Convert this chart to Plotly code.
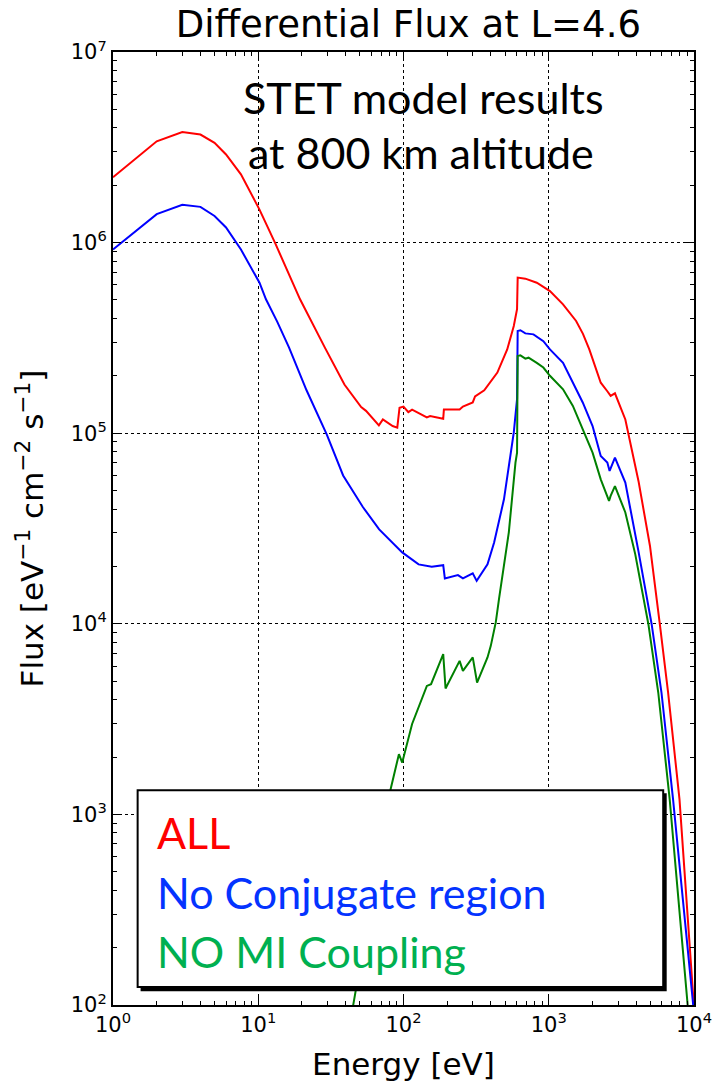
import plotly.graph_objects as go

# ---- Differential flux spectra at L=4.6 (STET model, 800 km) ----
energy_all = [1, 2, 3, 4, 5, 6, 7.6, 10.2, 13.1, 19.4, 28.7, 39.2, 51.1, 55.2, 67.7, 72.1,
              84.2, 90.6, 93.9, 100, 108, 114.6, 144.8, 152.4, 187.7, 189.7, 243.4, 256.5,
              299.7, 311, 359.7, 442.7, 517.6, 574.5, 605, 611, 690, 827, 1019, 1254, 1543,
              1720, 1902, 2100, 2280, 2531, 2667, 2856, 3367, 4150, 4977, 5818, 6634, 7946,
              9066, 9796, 9990]
flux_all = [2.20e6, 3.40e6, 3.80e6, 3.69e6, 3.34e6, 2.90e6, 2.28e6, 1.49e6, 9.9e5, 5.04e5,
            2.82e5, 1.80e5, 1.37e5, 1.31e5, 1.10e5, 1.18e5, 1.09e5, 1.07e5, 1.36e5, 1.38e5,
            1.29e5, 1.33e5, 1.21e5, 1.23e5, 1.19e5, 1.33e5, 1.33e5, 1.38e5, 1.45e5, 1.56e5,
            1.68e5, 2.08e5, 2.75e5, 3.65e5, 4.47e5, 6.55e5, 6.47e5, 6.16e5, 5.57e5, 4.74e5,
            3.88e5, 3.32e5, 2.75e5, 2.20e5, 1.84e5, 1.66e5, 1.57e5, 1.62e5, 1.18e5, 5.6e4,
            2.56e4, 9.95e3, 4.36e3, 1.20e3, 294, 131, 98]

energy_noconj = [1, 2, 3, 4, 5, 6, 7.6, 10.2, 11.3, 13.5, 16.3, 21.5, 29.6, 38.4, 52.5, 68.0,
                 98, 127, 156.5, 187.7, 192.6, 237, 256.5, 299.7, 319, 378.7, 420.6, 491.6,
                 574.5, 605, 611, 638, 690, 785, 918, 1019, 1254, 1466, 1714, 2003, 2280,
                 2531, 2624, 2856, 3367, 4150, 5110, 5972, 7175, 9900]
flux_noconj = [9.21e5, 1.41e6, 1.58e6, 1.54e6, 1.38e6, 1.20e6, 9.2e5, 6.16e5, 5.04e5, 3.85e5,
               2.81e5, 1.68e5, 9.87e4, 6.0e4, 4.1e4, 3.13e4, 2.37e4, 2.05e4, 1.99e4, 2.03e4,
               1.73e4, 1.80e4, 1.73e4, 1.84e4, 1.68e4, 2.05e4, 2.67e4, 4.50e4, 1.01e5,
               1.51e5, 3.44e5, 3.47e5, 3.34e5, 3.30e5, 3.04e5, 2.75e5, 2.34e5, 1.84e5,
               1.45e5, 1.09e5, 7.59e4, 7.01e4, 6.34e4, 7.45e4, 5.51e4, 2.39e4, 9.95e3,
               4.36e3, 1.20e3, 98]

energy_nomi = [44, 81.6, 93, 98, 114.6, 144.8, 154.8, 187.7, 194.8, 243.4, 256.5, 299.7, 321,
               378.7, 399, 432, 454.6, 531, 590, 605, 611, 638, 690, 726, 827, 918, 1019, 1254,
               1466, 1714, 2003, 2280, 2465, 2600, 2667, 2856, 3367, 3939, 4853, 5675, 6802, 9066]
flux_nomi = [90, 1.36e3, 2.07e3, 1.87e3, 2.98e3, 4.72e3, 4.82e3, 6.93e3, 4.58e3, 6.39e3,
             5.66e3, 6.66e3, 4.92e3, 6.66e3, 7.66e3, 1.02e4, 1.35e4, 3.02e4, 7.01e4, 7.91e4,
             2.54e5, 2.56e5, 2.46e5, 2.49e5, 2.34e5, 2.21e5, 2.0e5, 1.70e5, 1.39e5, 1.05e5,
             7.91e4, 5.73e4, 4.88e4, 4.41e4, 4.69e4, 5.28e4, 3.84e4, 2.32e4, 9.95e3, 4.36e3,
             1.20e3, 98]

series = [
    ("ALL", energy_all, flux_all, "#ff0000", "#ff0000"),
    ("No Conjugate region", energy_noconj, flux_noconj, "#0000ff", "#0433ff"),
    ("NO MI Coupling", energy_nomi, flux_nomi, "#008000", "#00b050"),
]

x_decades = [1, 10, 100, 1000, 10000]
x_ticklabels = ["10<sup>0</sup>", "10<sup>1</sup>", "10<sup>2</sup>", "10<sup>3</sup>", "10<sup>4</sup>"]
y_decades = [1e2, 1e3, 1e4, 1e5, 1e6, 1e7]
y_ticklabels = ["10<sup>2</sup>", "10<sup>3</sup>", "10<sup>4</sup>", "10<sup>5</sup>",
                "10<sup>6</sup>", "10<sup>7</sup>"]

fig = go.Figure()
for name, e, f, line_color, _ in series:
    fig.add_trace(go.Scatter(x=e, y=f, mode="lines", name=name,
                             line=dict(color=line_color, width=2), showlegend=False))

def minor_vals(lo_exp, hi_exp):
    return [m * 10 ** k for k in range(lo_exp, hi_exp) for m in range(2, 10)]

axis_common = dict(
    type="log", showline=True, linecolor="black", linewidth=2, mirror="allticks",
    ticks="inside", ticklen=8, tickwidth=1.2, tickcolor="black",
    showgrid=True, gridcolor="black", griddash="dot", gridwidth=1,
    zeroline=False, tickfont=dict(family="DejaVu Sans", size=21, color="black"),
)

fig.update_xaxes(**axis_common, range=[0, 4], tickmode="array", tickvals=x_decades,
                 ticktext=x_ticklabels,
                 minor=dict(tickmode="array", tickvals=minor_vals(0, 4), ticks="inside",
                            ticklen=4, tickcolor="black", showgrid=False),
                 title=dict(text="Energy [eV]", font=dict(family="DejaVu Sans", size=31,
                                                          color="black"), standoff=17))
fig.update_yaxes(**axis_common, range=[2, 7], tickmode="array", tickvals=y_decades,
                 ticktext=y_ticklabels,
                 minor=dict(tickmode="array", tickvals=minor_vals(2, 7), ticks="inside",
                            ticklen=4, tickcolor="black", showgrid=False))

# y-axis title placed as rotated text
fig.add_annotation(xref="paper", yref="paper", x=-0.143, y=0.500, xanchor="center",
                   yanchor="middle", textangle=-90, showarrow=False,
                   text="Flux [eV<sup>\u22121</sup> cm<sup>\u22122</sup> s<sup>\u22121</sup>]",
                   font=dict(family="DejaVu Sans", size=31, color="black"))

# text box with the series names
fig.add_shape(type="rect", xref="paper", yref="paper", x0=0.0475, x1=0.953, y0=0.0145,
              y1=0.2222, fillcolor="black", line=dict(width=0), layer="above")
fig.add_shape(type="rect", xref="paper", yref="paper", x0=0.0424, x1=0.947, y0=0.0189,
              y1=0.2254, fillcolor="white", line=dict(color="black", width=2), layer="above")

for i, (name, _, _, _, text_color) in enumerate(series):
    fig.add_annotation(xref="paper", yref="paper", x=0.073, y=0.181 - i * 0.0625,
                       xanchor="left", yanchor="middle", showarrow=False, text=name,
                       font=dict(family="Lato", size=43, color=text_color))

fig.add_annotation(xref="paper", yref="paper", x=0.535, y=0.952, xanchor="center",
                   yanchor="middle", showarrow=False, text="STET model results",
                   font=dict(family="Lato", size=43, color="black"))
fig.add_annotation(xref="paper", yref="paper", x=0.530, y=0.895, xanchor="center",
                   yanchor="middle", showarrow=False, text="at 800 km altitude",
                   font=dict(family="Lato", size=43, color="black"))

fig.update_layout(
    width=724, height=1088,
    margin=dict(l=113, r=21, t=52, b=82),
    paper_bgcolor="white", plot_bgcolor="white",
    title=dict(text="Differential Flux at L=4.6", x=0.564, xanchor="center", y=0.978,
               yanchor="middle", font=dict(family="DejaVu Sans", size=37, color="black")),
)

fig.write_html("out.html")
